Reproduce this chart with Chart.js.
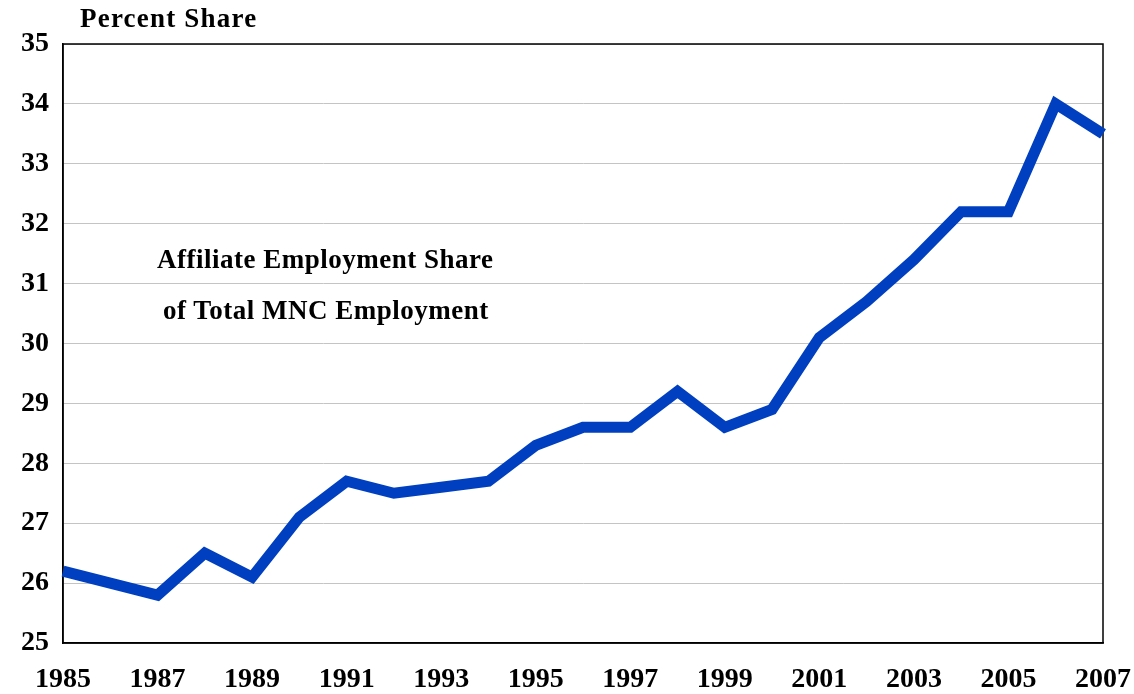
<!DOCTYPE html>
<html>
<head>
<meta charset="utf-8">
<script src="https://cdn.jsdelivr.net/npm/chart.js@4"></script>
<style>
  html, body { margin: 0; padding: 0; background: #fff; }
  #wrap { position: relative; width: 1134px; height: 694px; }
  .lbl { position: absolute; font-family: "Liberation Serif", "Times New Roman", serif; font-weight: bold; color: #000; white-space: nowrap; }
</style>
</head>
<body>
<div id="wrap">
  <canvas id="chart" width="1134" height="694"></canvas>
  <div class="lbl" style="left:80px; top:3px; font-size:27px; letter-spacing:1.2px;">Percent Share</div>
  <div class="lbl" style="left:157px; top:244px; font-size:27px; letter-spacing:0.5px;">Affiliate Employment Share</div>
  <div class="lbl" style="left:163px; top:295px; font-size:27px; letter-spacing:0.5px;">of Total MNC Employment</div>
</div>
<script>
var years = ['1985', '1986', '1987', '1988', '1989', '1990', '1991', '1992', '1993', '1994', '1995', '1996',
             '1997', '1998', '1999', '2000', '2001', '2002', '2003', '2004', '2005', '2006', '2007'];
var shareValues = [26.2, 26.0, 25.8, 26.5, 26.1, 27.1, 27.7, 27.5, 27.6, 27.7, 28.3, 28.6,
                   28.6, 29.2, 28.6, 28.9, 30.1, 30.7, 31.4, 32.2, 32.2, 34.0, 33.5];
var yMin = 25, yMax = 35;

// box round the plot area (top and right sides too)
var frame = {
    id: 'frame',
    beforeDatasetsDraw: function(chart) {
        var a = chart.chartArea, c = chart.ctx;
        c.save();
        c.strokeStyle = '#000';
        c.lineWidth = 1.5;
        c.strokeRect(a.left, a.top, a.right - a.left, a.bottom - a.top);
        c.restore();
    }
};

var ctx = document.getElementById('chart').getContext('2d');
new Chart(ctx, {
    type: 'line',
    data: {
        labels: years,
        datasets: [{
            data: shareValues,
            borderColor: '#0040C0',
            borderWidth: 11,
            borderJoinStyle: 'miter',
            pointRadius: 0,
            tension: 0,
            fill: false
        }]
    },
    options: {
        responsive: false,
        animation: false,
        layout: { padding: { left: 0, top: 44, right: 31, bottom: 0 } },
        plugins: { legend: { display: false }, tooltip: { enabled: false } },
        scales: {
            x: {
                offset: false,
                grid: { display: false },
                border: { display: true, color: '#000', width: 1.5 },
                ticks: {
                    autoSkip: false,
                    maxRotation: 0,
                    color: '#000',
                    padding: 12,
                    font: { family: 'Liberation Serif', weight: 'bold', size: 28 },
                    callback: function(v, i) { return i % 2 === 0 ? years[i] : ''; }
                },
                afterFit: function(s) { s.height = 51; s.paddingLeft = 0; s.paddingRight = 0; }
            },
            y: {
                min: yMin,
                max: yMax,
                grid: { color: '#c4c4c4', lineWidth: 1, drawTicks: false },
                border: { display: true, color: '#000', width: 1.5 },
                ticks: {
                    stepSize: 1,
                    color: '#000',
                    padding: 14,
                    font: { family: 'Liberation Serif', weight: 'bold', size: 28 }
                },
                afterFit: function(s) { s.width = 63; }
            }
        }
    },
    plugins: [frame]
});
</script>
</body>
</html>
